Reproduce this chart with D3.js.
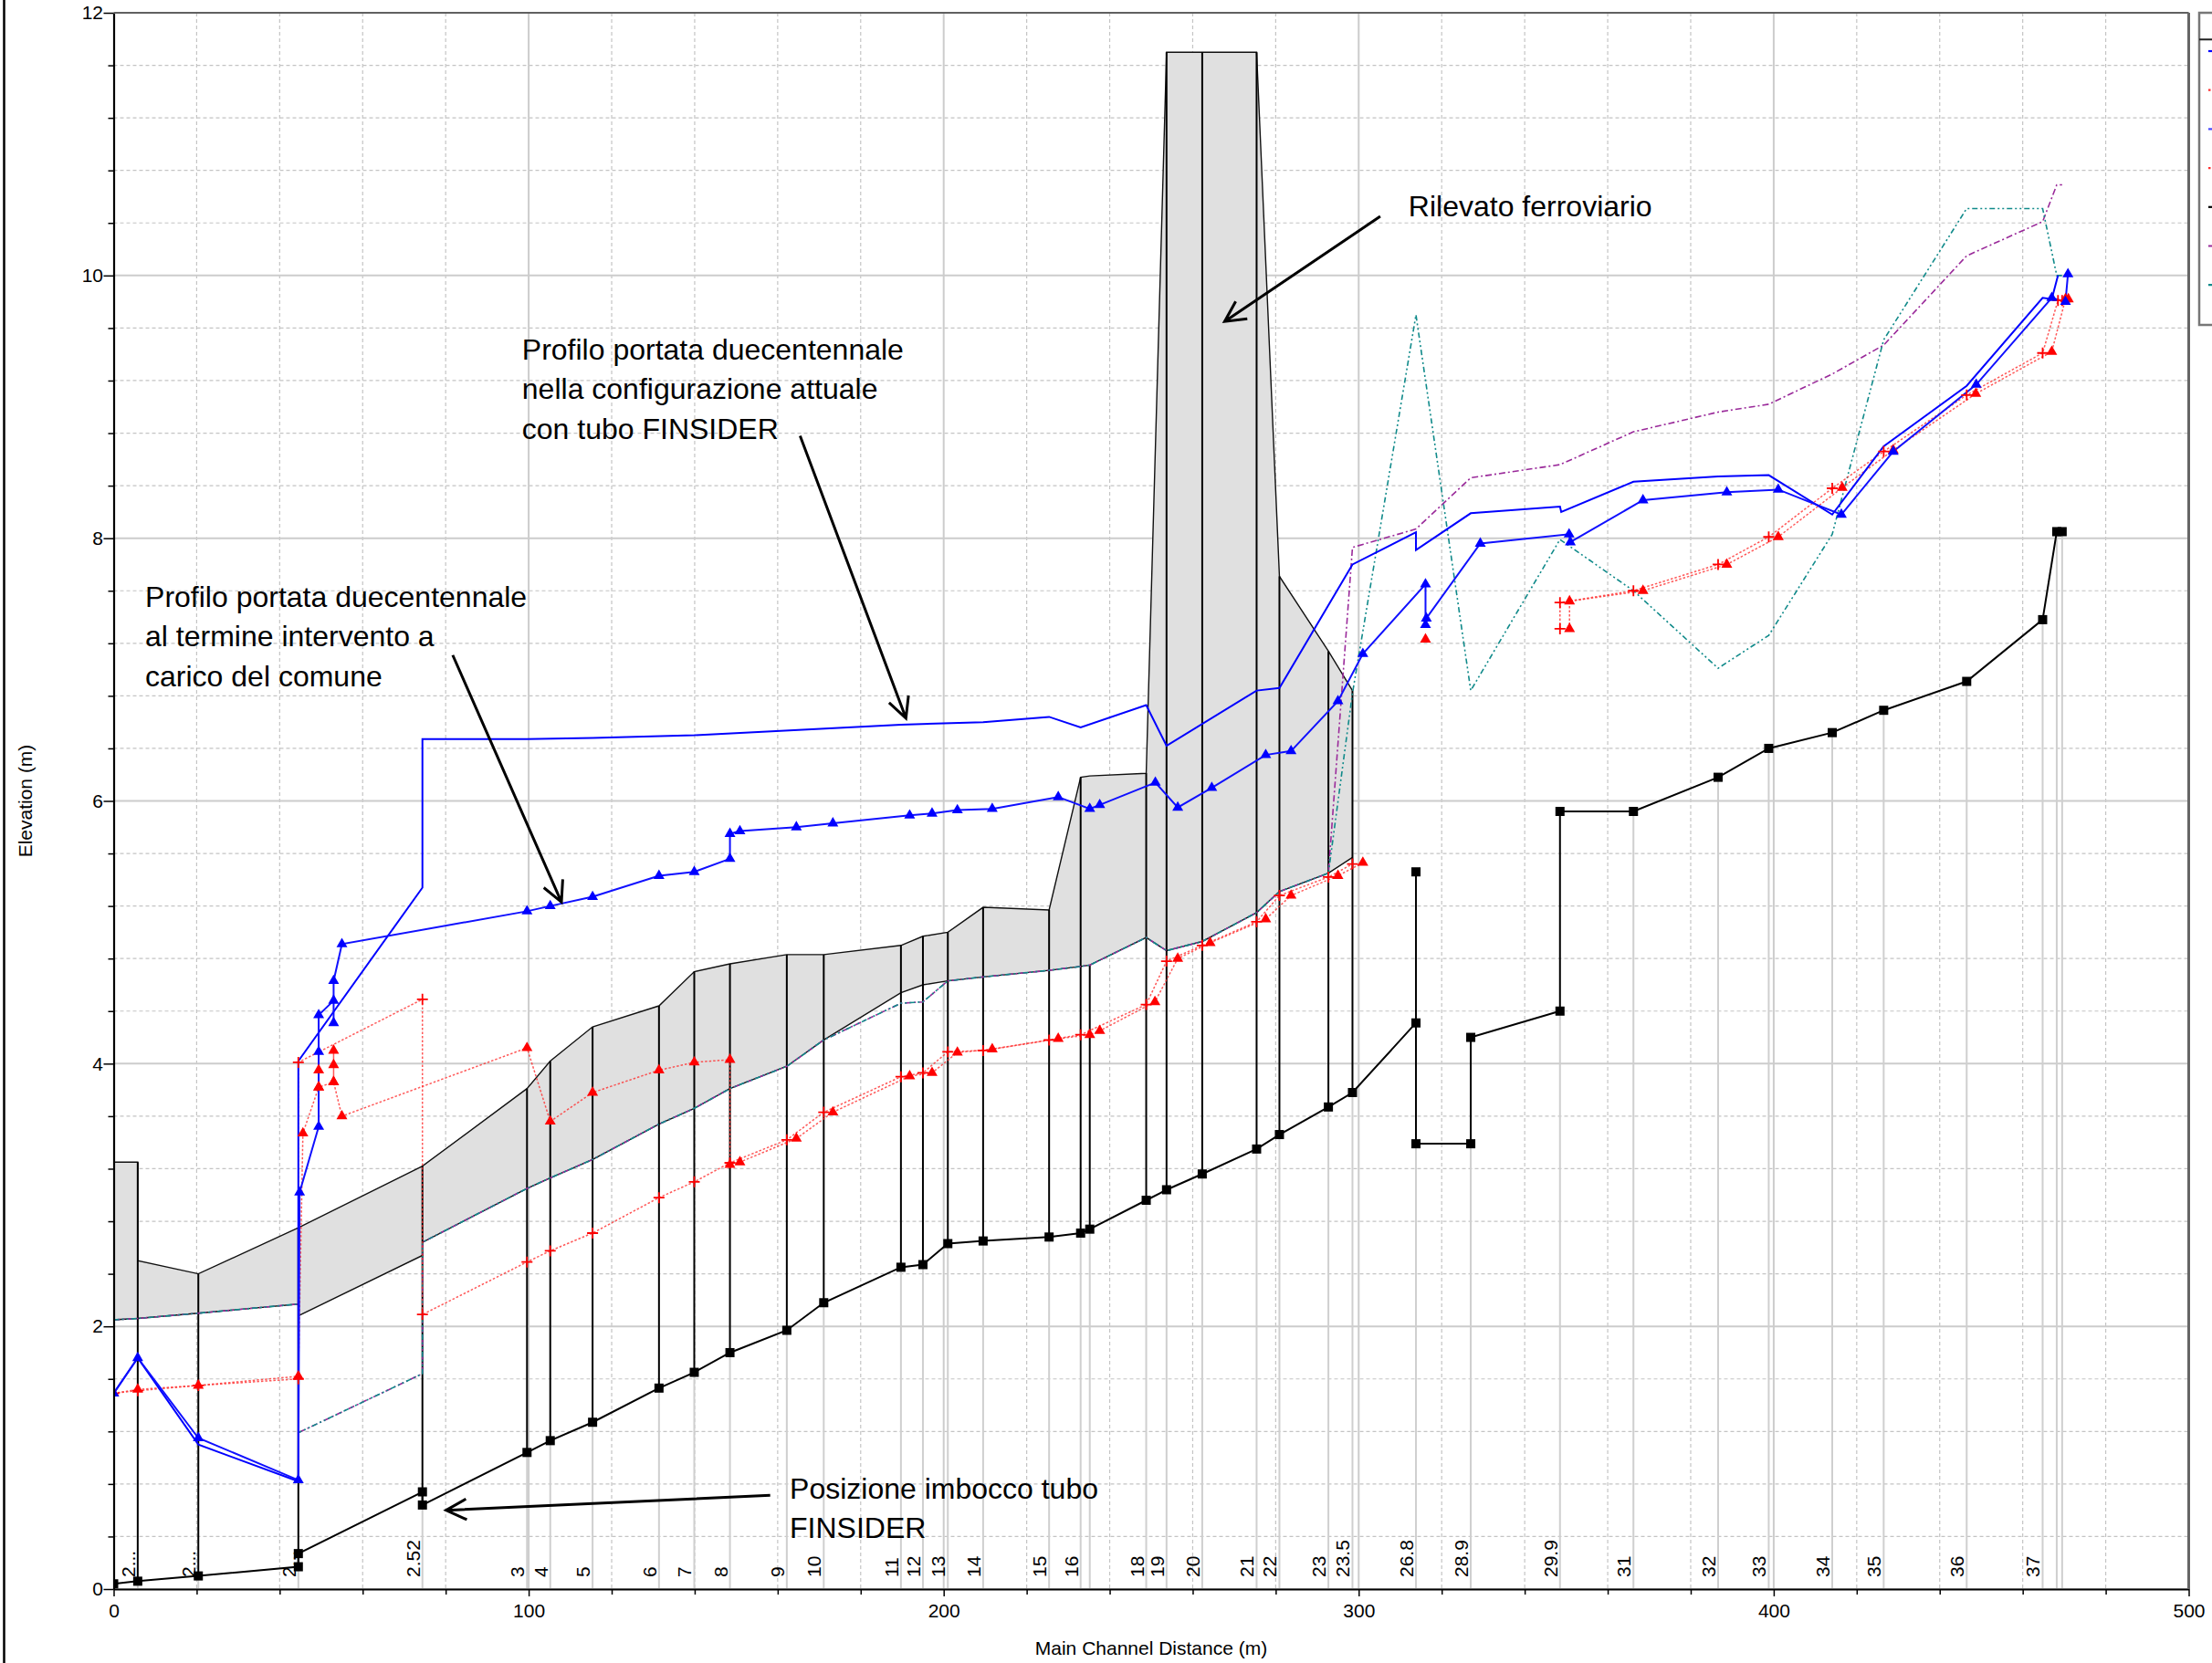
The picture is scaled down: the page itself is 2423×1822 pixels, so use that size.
<!DOCTYPE html>
<html>
<head>
<meta charset="utf-8">
<script src="https://cdn.jsdelivr.net/npm/d3@7"></script>
<style>
  body { margin: 0; background: #fff; }
  svg { display: block; }
  text { font-family: "Liberation Sans", Arial, Helvetica, sans-serif; fill: #000; }
</style>
</head>
<body>
<svg id="chart" width="2423" height="1822"></svg>
<script>
// ---------- River stations (main channel distance, m) ----------
const stationX = [0, 5.8, 20.4, 44.5, 74.4, 99.6, 105.2, 115.4, 131.4, 139.9, 148.5, 162.2, 171.1, 189.7, 195.0, 201.0, 209.5, 225.4, 233.0, 235.2, 248.8, 253.7, 262.3, 275.4, 280.9, 292.7, 298.5, 313.8, 327.0, 348.5, 366.2, 386.6, 398.8, 414.1, 426.5, 446.5, 464.8, 468.2, 469.5];
const stationLabels = ["", "2...", "2...", "2...", "2.52", "3", "4", "5", "6", "7", "8", "9", "10", "11", "12", "13", "14", "15", "16", "", "18", "19", "20", "21", "22", "23", "23.5", "26.8", "28.9", "29.9", "31", "32", "33", "34", "35", "36", "37", "", ""];
// lowest bed elevation at each station
const stationBed = [0.04, 0.06, 0.10, 0.17, 0.64, 1.04, 1.13, 1.27, 1.53, 1.65, 1.80, 1.97, 2.18, 2.45, 2.47, 2.63, 2.65, 2.68, 2.71, 2.74, 2.96, 3.04, 3.16, 3.35, 3.46, 3.67, 3.78, 3.39, 3.39, 4.40, 5.92, 6.18, 6.40, 6.52, 6.69, 6.91, 7.38, 8.05, 8.05];
// top of the structure at each station (null = open section)
const stationDeck = [3.25, 3.25, 2.40, 2.75, 3.22, 3.81, 4.02, 4.28, 4.44, 4.70, 4.76, 4.83, 4.83, 4.90, 4.97, 5.00, 5.19, 5.17, 6.18, 4.75, 6.21, 11.70, 11.70, 11.70, 7.71, 7.14, 6.84, null, null, null, null, null, null, null, null, null, null, null, null];

// ---------- Structures (deck / low chord) ----------
const deckX      = [0, 5.8, 5.8, 20.4, 44.5, 44.5, 74.4, 74.4, 99.6, 105.2, 115.4, 131.4, 139.9, 148.5, 162.2, 171.1, 189.7, 195.0, 201.0, 209.5, 225.4, 233.0, 235.2, 248.8, 253.7, 262.3, 275.4, 280.9, 292.7, 298.5];
const deckTop    = [3.25, 3.25, 2.50, 2.40, 2.75, 2.75, 3.22, 3.22, 3.81, 4.02, 4.28, 4.44, 4.70, 4.76, 4.83, 4.83, 4.90, 4.97, 5.00, 5.19, 5.17, 6.18, 6.19, 6.21, 11.70, 11.70, 11.70, 7.71, 7.14, 6.84];
const deckBottom = [2.05, 2.06, 2.06, 2.10, 2.17, 2.08, 2.54, 2.64, 3.05, 3.13, 3.27, 3.54, 3.66, 3.81, 3.98, 4.18, 4.54, 4.60, 4.63, 4.66, 4.71, 4.74, 4.75, 4.96, 4.86, 4.93, 5.15, 5.31, 5.45, 5.57];

// ---------- Ground ----------
const groundX = [0, 5.8, 20.4, 44.5, 44.5, 74.4, 74.4, 99.6, 105.2, 115.4, 131.4, 139.9, 148.5, 162.2, 171.1, 189.7, 195.0, 201.0, 209.5, 225.4, 233.0, 235.2, 248.8, 253.7, 262.3, 275.4, 280.9, 292.7, 298.5, 313.8, 313.8, 313.8, 327.0, 327.0, 348.5, 348.5, 366.2, 386.6, 398.8, 414.1, 426.5, 446.5, 464.8, 468.2, 469.5];
const groundY = [0.04, 0.06, 0.10, 0.17, 0.27, 0.74, 0.64, 1.04, 1.13, 1.27, 1.53, 1.65, 1.80, 1.97, 2.18, 2.45, 2.47, 2.63, 2.65, 2.68, 2.71, 2.74, 2.96, 3.04, 3.16, 3.35, 3.46, 3.67, 3.78, 4.31, 5.46, 3.39, 3.39, 4.20, 4.40, 5.92, 5.92, 6.18, 6.40, 6.52, 6.69, 6.91, 7.38, 8.05, 8.05];

// ---------- Banks ----------
const bankX = [0, 5.8, 20.4, 44.5, 44.5, 74.4, 74.4, 99.6, 105.2, 115.4, 131.4, 139.9, 148.5, 162.2, 171.1, 189.7, 195.0, 201.0, 209.5, 225.4, 233.0, 235.2, 248.8, 253.7, 262.3, 275.4, 280.9, 292.7, 298.5, 313.8, 327.0, 348.5, 366.2, 386.6, 398.8, 414.1, 426.5, 446.5, 464.8, 468.2, 469.5];
const leftBankY  = [2.05, 2.06, 2.10, 2.17, 1.19, 1.64, 2.64, 3.05, 3.13, 3.27, 3.54, 3.66, 3.81, 3.98, 4.18, 4.46, 4.47, 4.63, 4.66, 4.71, 4.74, 4.75, 4.96, 4.86, 4.93, 5.15, 5.31, 5.45, 7.93, 8.07, 8.46, 8.56, 8.81, 8.96, 9.02, 9.25, 9.47, 10.15, 10.41, 10.69, 10.69];
const rightBankY = [2.05, 2.06, 2.10, 2.17, 1.19, 1.64, 2.64, 3.05, 3.13, 3.27, 3.54, 3.66, 3.81, 3.98, 4.18, 4.46, 4.47, 4.63, 4.66, 4.71, 4.74, 4.75, 4.96, 4.86, 4.93, 5.15, 5.31, 5.45, 6.82, 9.70, 6.84, 7.99, 7.60, 7.01, 7.26, 8.03, 9.51, 10.51, 10.51, 10.00, 10.00];

// ---------- Water surface, current configuration (FINSIDER pipe) ----------
const wsActualX = [0, 5.8, 20.4, 44.5, 44.5, 74.4, 74.4, 99.6, 115.4, 139.9, 189.7, 209.5, 225.4, 233.0, 248.8, 253.7, 275.4, 280.9, 298.5, 313.8, 313.8, 327.0, 348.5, 348.8, 366.2, 386.6, 398.8, 414.1, 426.5, 446.5, 464.8, 467.0, 468.5];
const wsActualY = [1.49, 1.76, 1.10, 0.82, 4.02, 5.34, 6.47, 6.47, 6.48, 6.50, 6.58, 6.60, 6.64, 6.56, 6.73, 6.42, 6.84, 6.86, 7.80, 8.045, 7.91, 8.19, 8.24, 8.20, 8.43, 8.47, 8.48, 8.18, 8.70, 9.16, 9.83, 9.82, 10.00];

// ---------- Water surface, after municipal works ----------
const wsWorksX = [0, 5.8, 20.4, 44.5, 44.8, 49.4, 49.4, 49.4, 53.0, 53.0, 53.0, 55.0, 99.6, 105.2, 115.4, 131.4, 139.9, 148.5, 148.5, 150.9, 164.5, 173.3, 191.8, 197.2, 203.3, 211.7, 227.6, 235.2, 237.6, 251.0, 256.4, 264.6, 277.6, 283.7, 295.0, 301.0, 316.1, 316.1, 316.3, 329.3, 350.7, 351.0, 368.5, 388.7, 401.1, 416.3, 428.8, 448.8, 467.0, 470.3, 470.9];
const wsWorksY = [1.49, 1.76, 1.15, 0.83, 3.02, 3.52, 4.09, 4.37, 4.48, 4.31, 4.63, 4.91, 5.16, 5.20, 5.27, 5.43, 5.46, 5.56, 5.75, 5.77, 5.80, 5.83, 5.89, 5.905, 5.93, 5.94, 6.03, 5.94, 5.97, 6.14, 5.95, 6.10, 6.35, 6.38, 6.76, 7.12, 7.65, 7.34, 7.39, 7.96, 8.03, 7.97, 8.29, 8.35, 8.37, 8.18, 8.66, 9.17, 9.83, 9.80, 10.01];

// ---------- Second plan, water surface (triangles) ----------
const planTriX = [0, 5.8, 20.4, 44.5, 45.6, 49.4, 49.4, 49.4, 53.0, 53.0, 53.0, 53.0, 55.0, 99.6, 105.2, 115.4, 131.4, 139.9, 148.5, 148.5, 150.9, 164.5, 173.3, 191.8, 197.2, 203.3, 211.7, 227.6, 235.2, 237.6, 250.9, 256.4, 264.2, 277.6, 283.7, 295.0, 301.0, 316.1, 316.1, 350.8, 350.8, 350.8, 368.5, 388.7, 401.1, 416.5, 428.8, 448.7, 467.0, 470.3, 471.0];
const planTriY = [1.49, 1.52, 1.55, 1.62, 3.47, 3.82, 3.95, 3.82, 3.86, 4.10, 3.99, 3.86, 3.60, 4.12, 3.56, 3.78, 3.95, 4.01, 4.03, 3.23, 3.25, 3.43, 3.63, 3.905, 3.93, 4.085, 4.11, 4.19, 4.22, 4.25, 4.47, 4.80, 4.92, 5.10, 5.28, 5.43, 5.53, null, 7.23, null, 7.31, 7.52, 7.60, 7.80, 8.01, 8.385, 8.67, 9.10, 9.42, 9.82, 9.82];

// ---------- Second plan, energy line (crosses) ----------
const planPlusX = [0, 5.8, 20.4, 44.5, 44.5, 74.4, 74.4, 99.6, 105.2, 115.4, 131.4, 139.9, 148.5, 162.2, 171.1, 189.7, 195.0, 201.0, 209.5, 225.4, 233.0, 248.8, 253.7, 262.3, 275.4, 280.9, 292.7, 298.5, 348.5, 348.5, 348.5, 366.2, 386.6, 398.8, 414.1, 426.5, 446.5, 464.8, 468.5, 469.5];
const planPlusY = [1.49, 1.51, 1.55, 1.60, 4.01, 4.49, 2.09, 2.49, 2.575, 2.71, 2.98, 3.10, 3.245, 3.42, 3.63, 3.90, 3.93, 4.09, 4.10, 4.18, 4.22, 4.45, 4.78, 4.90, 5.08, 5.28, 5.42, 5.52, null, 7.31, 7.51, 7.60, 7.80, 8.01, 8.38, 8.66, 9.09, 9.41, 9.81, 9.81];

// ---------- Axes ----------
const xTickLabels = [0, 100, 200, 300, 400, 500];
const yTickLabels = [0, 2, 4, 6, 8, 10, 12];
const xMinorStep = 20;
const yMinorStep = 0.4;

// ---------- Callouts ----------
const notes = [
  { lines: ["Rilevato ferroviario"], at: [312.0, 10.45] },
  { lines: ["Profilo portata duecentennale", "nella configurazione attuale", "con tubo FINSIDER"], at: [98.4, 9.36] },
  { lines: ["Profilo portata duecentennale", "al termine intervento a", "carico del comune"], at: [7.6, 7.48] },
  { lines: ["Posizione imbocco tubo", "FINSIDER"], at: [162.9, 0.69] }
];
const pointers = [
  { from: [305.2, 10.45], to: [267.7, 9.65] },
  { from: [165.4, 8.78], to: [190.9, 6.63] },
  { from: [81.7, 7.11], to: [107.9, 5.23] },
  { from: [158.2, 0.714], to: [80.1, 0.60] }
];

// ================= drawing =================
const svg = d3.select("#chart");
const x = d3.scaleLinear().domain([0, 500]).range([124.5, 2397.5]);
const y = d3.scaleLinear().domain([0, 12]).range([1741, 14]);
const X0 = x(0), X1 = x(500), Y0 = y(0), Y1 = y(12);

const pts = (xs, ys) => xs.map((v, i) => ({ x: v, y: ys[i] }));
const line = d3.line().defined(d => d.y != null).x(d => x(d.x)).y(d => y(d.y));

svg.append("defs").append("clipPath").attr("id", "plotClip")
  .append("rect").attr("x", X0).attr("y", Y1 - 6).attr("width", X1 - X0 + 6).attr("height", Y0 - Y1 + 6);

// outer frame edge on the left
svg.append("line").attr("x1", 4.5).attr("x2", 4.5).attr("y1", 0).attr("y2", 1822)
  .attr("stroke", "#000").attr("stroke-width", 2.5);

const plot = svg.append("g").attr("clip-path", "url(#plotClip)");

// grid
const xMinor = d3.range(0, 500 + 1e-9, xMinorStep);
const yMinor = d3.range(0, Math.round(12 / yMinorStep) + 1).map(i => +(i * yMinorStep).toFixed(2));
const isMajorX = v => xTickLabels.includes(v);
const isMajorY = v => yTickLabels.includes(v);

const grid = plot.append("g");
grid.selectAll(".gx").data(xMinor.filter(v => !isMajorX(v))).join("line")
  .attr("x1", d => x(d)).attr("x2", d => x(d)).attr("y1", Y1).attr("y2", Y0)
  .attr("stroke", "#c4c4c4").attr("stroke-width", 1.2).attr("stroke-dasharray", "4,3");
grid.selectAll(".gy").data(yMinor.filter(v => !isMajorY(v))).join("line")
  .attr("x1", X0).attr("x2", X1).attr("y1", d => y(d)).attr("y2", d => y(d))
  .attr("stroke", "#c4c4c4").attr("stroke-width", 1.2).attr("stroke-dasharray", "4,3");
grid.selectAll(".gX").data(xTickLabels).join("line")
  .attr("x1", d => x(d)).attr("x2", d => x(d)).attr("y1", Y1).attr("y2", Y0)
  .attr("stroke", "#cccccc").attr("stroke-width", 2);
grid.selectAll(".gY").data(yTickLabels).join("line")
  .attr("x1", X0).attr("x2", X1).attr("y1", d => y(d)).attr("y2", d => y(d))
  .attr("stroke", "#cccccc").attr("stroke-width", 2);

// station lines below the bed
const stations = stationX.map((s, i) => ({ x: s, bed: stationBed[i], deck: stationDeck[i], label: stationLabels[i] }));
plot.append("g").selectAll("line").data(stations).join("line")
  .attr("x1", d => x(d.x)).attr("x2", d => x(d.x)).attr("y1", Y0).attr("y2", d => y(d.bed))
  .attr("stroke", "#cfcfcf").attr("stroke-width", 2);

// structures
const deck = deckX.map((v, i) => ({ x: v, top: deckTop[i], bot: deckBottom[i] }));
plot.append("path").datum(deck)
  .attr("d", d3.area().x(d => x(d.x)).y0(d => y(d.bot)).y1(d => y(d.top)))
  .attr("fill", "#e0e0e0").attr("stroke", "none");
plot.append("path").datum(deck)
  .attr("d", d3.line().x(d => x(d.x)).y(d => y(d.top)))
  .attr("fill", "none").attr("stroke", "#111").attr("stroke-width", 1.4);
plot.append("path").datum(deck)
  .attr("d", d3.line().x(d => x(d.x)).y(d => y(d.bot)))
  .attr("fill", "none").attr("stroke", "#111").attr("stroke-width", 1.4);

// station lines through the structures
plot.append("g").selectAll("line").data(stations.filter(d => d.deck != null)).join("line")
  .attr("x1", d => x(d.x)).attr("x2", d => x(d.x)).attr("y1", d => y(d.bed)).attr("y2", d => y(d.deck))
  .attr("stroke", "#000").attr("stroke-width", 2);

// banks
plot.append("path").datum(pts(bankX, leftBankY)).attr("d", line)
  .attr("fill", "none").attr("stroke", "#9a2a9a").attr("stroke-width", 1.6).attr("stroke-dasharray", "7,3,2,3");
plot.append("path").datum(pts(bankX, rightBankY)).attr("d", line)
  .attr("fill", "none").attr("stroke", "#108a8a").attr("stroke-width", 1.6).attr("stroke-dasharray", "6,3,2,3,2,3");

// second plan lines
const redStroke = "#ff3030";
plot.append("path").datum(pts(planPlusX, planPlusY)).attr("d", line)
  .attr("fill", "none").attr("stroke", redStroke).attr("stroke-width", 1.5).attr("stroke-dasharray", "2.5,2").attr("opacity", 0.8);
plot.append("path").datum(pts(planTriX, planTriY)).attr("d", line)
  .attr("fill", "none").attr("stroke", redStroke).attr("stroke-width", 1.5).attr("stroke-dasharray", "2.5,2").attr("opacity", 0.8);

// water surfaces
plot.append("path").datum(pts(wsActualX, wsActualY)).attr("d", line)
  .attr("fill", "none").attr("stroke", "#0000ff").attr("stroke-width", 2);
plot.append("path").datum(pts(wsWorksX, wsWorksY)).attr("d", line)
  .attr("fill", "none").attr("stroke", "#1010ff").attr("stroke-width", 2);

// ground
plot.append("path").datum(pts(groundX, groundY)).attr("d", line)
  .attr("fill", "none").attr("stroke", "#000").attr("stroke-width", 2);

// markers
const tri = d3.symbol(d3.symbolTriangle, 62)();
plot.append("g").selectAll("path").data(pts(planPlusX, planPlusY).filter(d => d.y != null)).join("path")
  .attr("transform", d => `translate(${x(d.x)},${y(d.y)})`)
  .attr("d", "M-6,0H6M0,-6V6").attr("stroke", "#ff0000").attr("stroke-width", 1.8);
plot.append("g").selectAll("path").data(pts(planTriX, planTriY).filter(d => d.y != null)).join("path")
  .attr("transform", d => `translate(${x(d.x)},${y(d.y)})`)
  .attr("d", tri).attr("fill", "#ff0000");
plot.append("g").selectAll("path").data(pts(wsWorksX, wsWorksY)).join("path")
  .attr("transform", d => `translate(${x(d.x)},${y(d.y)})`)
  .attr("d", tri).attr("fill", "#0000ff");
plot.append("g").selectAll("rect").data(pts(groundX, groundY)).join("rect")
  .attr("x", d => x(d.x) - 5).attr("y", d => y(d.y) - 5).attr("width", 10).attr("height", 10)
  .attr("fill", "#000");

// station names
svg.append("g").selectAll("text").data(stations.filter(d => d.label)).join("text")
  .attr("transform", d => `translate(${x(d.x) - 3},1728) rotate(-90)`)
  .attr("text-anchor", "start").attr("font-size", 21).text(d => d.label);

// callouts
const noteG = svg.append("g");
notes.forEach(n => {
  const t = noteG.append("text").attr("x", x(n.at[0])).attr("y", y(n.at[1])).attr("font-size", 32);
  n.lines.forEach((s, i) => t.append("tspan").attr("x", x(n.at[0])).attr("dy", i ? 43.5 : 0).text(s));
});
pointers.forEach(p => {
  const x1 = x(p.from[0]), y1 = y(p.from[1]), x2 = x(p.to[0]), y2 = y(p.to[1]);
  const ang = Math.atan2(y1 - y2, x1 - x2), L = 25, a = 27 * Math.PI / 180;
  noteG.append("path")
    .attr("d", `M${x1},${y1}L${x2},${y2}M${x2 + L * Math.cos(ang - a)},${y2 + L * Math.sin(ang - a)}L${x2},${y2}L${x2 + L * Math.cos(ang + a)},${y2 + L * Math.sin(ang + a)}`)
    .attr("fill", "none").attr("stroke", "#000").attr("stroke-width", 3);
});

// axes
const xAxis = svg.append("g").attr("transform", `translate(0,${Y0})`)
  .call(d3.axisBottom(x).tickValues(xMinor).tickSize(6).tickSizeOuter(0).tickPadding(10)
    .tickFormat(d => isMajorX(d) ? d : ""));
xAxis.selectAll(".tick line").filter(d => isMajorX(d)).attr("y2", 8);
const yAxis = svg.append("g").attr("transform", `translate(${X0},0)`)
  .call(d3.axisLeft(y).tickValues(yMinor).tickSize(6).tickSizeOuter(0).tickPadding(5.5)
    .tickFormat(d => isMajorY(d) ? d : ""));
yAxis.selectAll(".tick line").filter(d => isMajorY(d)).attr("x2", -11);
[xAxis, yAxis].forEach(g => {
  g.selectAll("text").attr("font-size", 21).attr("font-family", "Liberation Sans, Arial, sans-serif").attr("fill", "#000");
  g.selectAll("line").attr("stroke", "#000").attr("stroke-width", 1.5);
  g.select(".domain").attr("stroke", "#000").attr("stroke-width", 2.2);
});

// plot frame top/right
svg.append("line").attr("x1", X0).attr("x2", X1).attr("y1", Y1).attr("y2", Y1).attr("stroke", "#606060").attr("stroke-width", 2);
svg.append("line").attr("x1", X1).attr("x2", X1).attr("y1", Y1).attr("y2", Y0).attr("stroke", "#666").attr("stroke-width", 3);

// axis titles
svg.append("text").attr("x", (X0 + X1) / 2).attr("y", 1813).attr("text-anchor", "middle").attr("font-size", 21)
  .text("Main Channel Distance (m)");
svg.append("text").attr("transform", `translate(35,${(Y0 + Y1) / 2}) rotate(-90)`).attr("text-anchor", "middle").attr("font-size", 21)
  .text("Elevation (m)");

// legend keys
const legendKeys = [
  { stroke: "#0000ff", dash: null },
  { stroke: "#ff3030", dash: "2.5,2" },
  { stroke: "#4848ff", dash: null },
  { stroke: "#ff3030", dash: "2.5,2" },
  { stroke: "#000000", dash: null },
  { stroke: "#9a2a9a", dash: "4,2" },
  { stroke: "#108a8a", dash: "4,2" }
];
const lg = svg.append("g");
lg.append("rect").attr("x", 2409).attr("y", 14).attr("width", 40).attr("height", 342)
  .attr("fill", "#fff").attr("stroke", "#777").attr("stroke-width", 2.5);
lg.append("line").attr("x1", 2409).attr("x2", 2450).attr("y1", 43.3).attr("y2", 43.3).attr("stroke", "#222").attr("stroke-width", 2);
lg.selectAll(".key").data(legendKeys).join("line")
  .attr("x1", 2419).attr("x2", 2450)
  .attr("y1", (d, i) => 56 + i * 42.7).attr("y2", (d, i) => 56 + i * 42.7)
  .attr("stroke", d => d.stroke).attr("stroke-width", 2.2).attr("stroke-dasharray", d => d.dash);
</script>
</body>
</html>
